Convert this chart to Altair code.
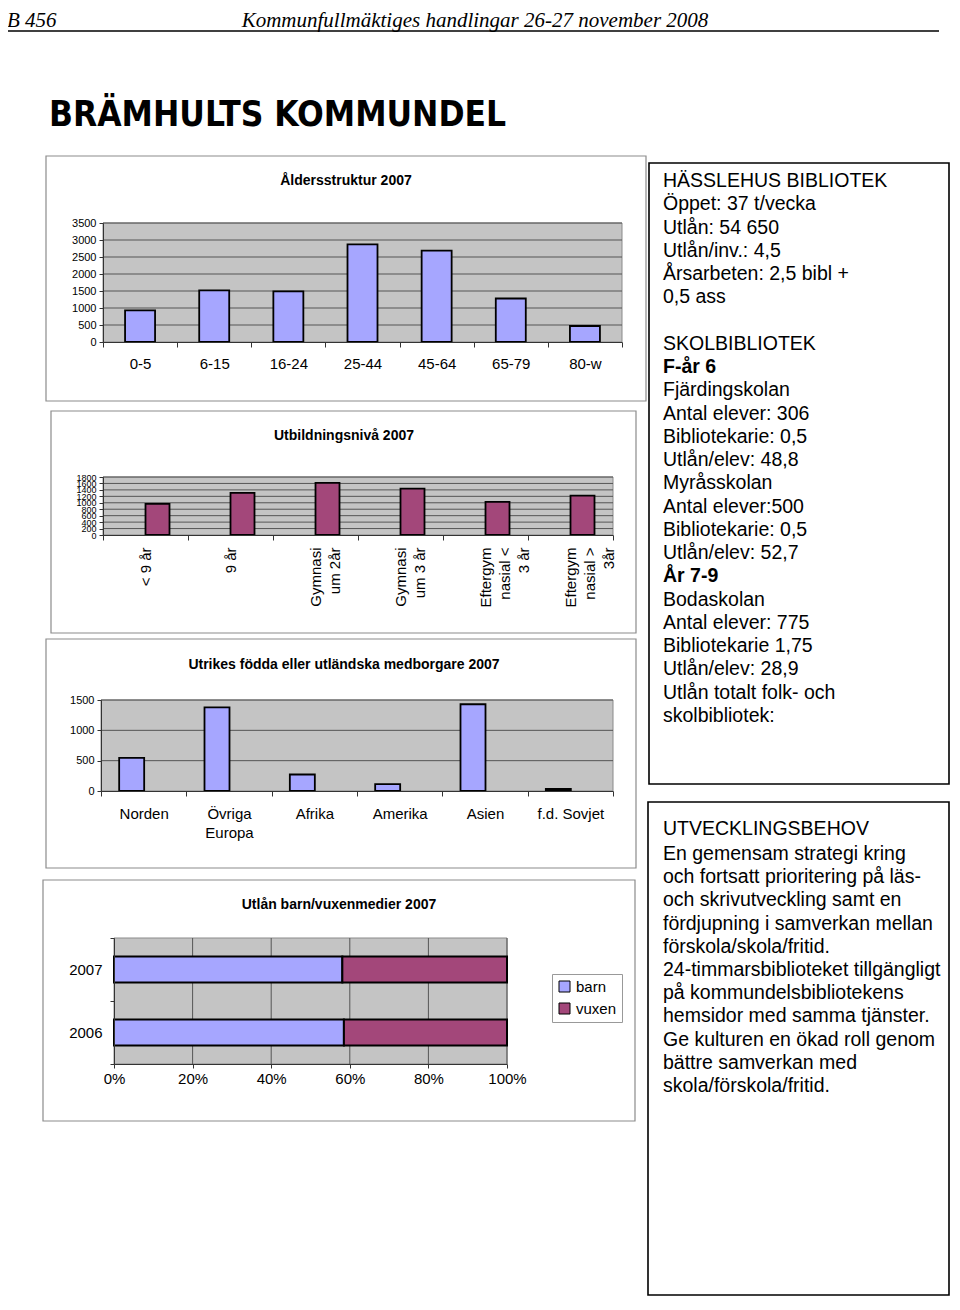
import altair as alt
import pandas as pd

# ---------------- data ----------------
age_groups = ["0-5", "6-15", "16-24", "25-44", "45-64", "65-79", "80-w"]
age_counts = [930, 1520, 1490, 2870, 2690, 1280, 470]
age_ticks = [0, 500, 1000, 1500, 2000, 2500, 3000, 3500]

edu_levels = ["< 9 år", "9 år", "Gymnasi\num 2år", "Gymnasi\num 3 år",
              "Eftergym\nnasial <\n3 år", "Eftergym\nnasial >\n3år"]
edu_counts = [965, 1310, 1620, 1440, 1030, 1220]
edu_ticks = [0, 200, 400, 600, 800, 1000, 1200, 1400, 1600, 1800]

origin_regions = ["Norden", "Övriga\nEuropa", "Afrika", "Amerika", "Asien", "f.d. Sovjet"]
origin_counts = [545, 1380, 272, 114, 1430, 33]
origin_ticks = [0, 500, 1000, 1500]

loan_years = ["2007", "2006"]
loan_types = ["barn", "vuxen"]
loan_barn = [58.1, 58.5]
loan_vuxen = [41.9, 41.5]
share_ticks = [0, 0.2, 0.4, 0.6, 0.8, 1.0]

chart_titles = ["Åldersstruktur 2007", "Utbildningsnivå 2007",
                "Utrikes födda eller utländska medborgare 2007",
                "Utlån barn/vuxenmedier 2007"]

page_label = "B 456"
page_header = "Kommunfullmäktiges handlingar 26-27 november 2008"
page_title = "BRÄMHULTS KOMMUNDEL"

library_lines = [
    "HÄSSLEHUS BIBLIOTEK", "Öppet: 37 t/vecka", "Utlån: 54 650", "Utlån/inv.: 4,5",
    "Årsarbeten: 2,5 bibl +", "0,5 ass", "", "SKOLBIBLIOTEK", "F-år 6",
    "Fjärdingskolan", "Antal elever: 306", "Bibliotekarie: 0,5", "Utlån/elev: 48,8",
    "Myråsskolan", "Antal elever:500", "Bibliotekarie: 0,5", "Utlån/elev: 52,7",
    "År 7-9", "Bodaskolan", "Antal elever: 775", "Bibliotekarie 1,75",
    "Utlån/elev: 28,9", "Utlån totalt folk- och", "skolbibliotek:",
]
library_bold = ["F-år 6", "År 7-9"]

needs_heading = "UTVECKLINGSBEHOV"
needs_lines = [
    "En gemensam strategi kring", "och fortsatt prioritering på läs-",
    "och skrivutveckling samt en", "fördjupning i samverkan mellan",
    "förskola/skola/fritid.", "24-timmarsbiblioteket tillgängligt",
    "på kommundelsbibliotekens", "hemsidor med samma tjänster.",
    "Ge kulturen en ökad roll genom", "bättre samverkan med",
    "skola/förskola/fritid.",
]

# ---------------- style ----------------
FONT = "Liberation Sans, Arial, sans-serif"
BLUE = "#a6a6ff"
PLUM = "#a3477a"
GRAY_BG = "#c4c4c4"
GRID = "#555555"
AX = "#333333"
FRAME = "#8c8c8c"


def deco():
    return alt.Chart(pd.DataFrame({"k": [0]}))


def frame(x1, x2, y1, y2, color=FRAME, width=1.2):
    return deco().mark_rect(fill="transparent", stroke=color, strokeWidth=width).encode(
        x=alt.value(x1), x2=alt.value(x2), y=alt.value(y1), y2=alt.value(y2))


def plot_bg(x1, x2, y1, y2):
    return deco().mark_rect(fill=GRAY_BG, stroke="#8a8a8a", strokeWidth=1).encode(
        x=alt.value(x1), x2=alt.value(x2), y=alt.value(y1), y2=alt.value(y2))


def text_mark(text, x, y, size, weight="normal", align="center", baseline="middle",
              font=FONT, style="normal"):
    return deco().mark_text(text=text, fontSize=size, fontWeight=weight, align=align,
                            baseline=baseline, font=font, fontStyle=style,
                            color="black").encode(x=alt.value(x), y=alt.value(y))


def column_panel(categories, values, ticks, *, ph, xr, yr, bar_width, bar_shift, color,
                 title, title_xy, box, y_label_size, x_label_pad, x_label_angle=0):
    df = pd.DataFrame({"cat": categories, "val": values})
    xs = alt.Scale(domain=categories, range=xr, paddingInner=0, paddingOuter=0)
    ys = alt.Scale(domain=[ticks[0], ticks[-1]], range=[yr[1], yr[0]], nice=False, zero=True)
    x_axis = alt.Axis(orient="bottom", offset=-(ph - yr[1]), tickBand="extent", tickSize=5,
                      labelPadding=x_label_pad, labelFontSize=15, labelAngle=x_label_angle,
                      labelExpr="split(datum.label, '\\n')", labelLineHeight=19,
                      title=None, domainColor=AX, tickColor=AX, labelColor="black",
                      zindex=1, grid=False)
    y_axis = alt.Axis(orient="left", offset=-xr[0], values=ticks, format="d", tickSize=4,
                      labelPadding=3, labelFontSize=y_label_size, labelOverlap=False,
                      title=None, domainColor=AX, tickColor=AX, labelColor="black",
                      zindex=1, grid=False)
    grid = alt.Chart(pd.DataFrame({"val": ticks[1:]})).mark_rule(
        color=GRID, strokeWidth=1).encode(
        y=alt.Y("val:Q", scale=ys, axis=y_axis), x=alt.value(xr[0]), x2=alt.value(xr[1]))
    bars = alt.Chart(df).mark_bar(width=bar_width, xOffset=bar_shift, fill=color,
                                  stroke="black", strokeWidth=1.8).encode(
        x=alt.X("cat:N", scale=xs, sort=categories, axis=x_axis),
        y=alt.Y("val:Q", scale=ys, axis=y_axis))
    return alt.layer(
        frame(*box),
        plot_bg(xr[0], xr[1], yr[0], yr[1]),
        grid,
        bars,
        text_mark(title, title_xy[0], title_xy[1], 14, weight="bold"),
    ).properties(width=640, height=ph)


p1 = column_panel(age_groups, age_counts, age_ticks, ph=255, xr=[96, 615], yr=(73, 192),
                  bar_width=30, bar_shift=0, color=BLUE, title=chart_titles[0],
                  title_xy=(339, 31), box=(39, 639, 6, 251), y_label_size=11,
                  x_label_pad=9)
p2 = column_panel(edu_levels, edu_counts, edu_ticks, ph=231, xr=[96, 606], yr=(72, 130),
                  bar_width=24, bar_shift=12, color=PLUM, title=chart_titles[1],
                  title_xy=(337, 31), box=(44, 629, 6, 228), y_label_size=9,
                  x_label_pad=7, x_label_angle=-90)
p3 = column_panel(origin_regions, origin_counts, origin_ticks, ph=234, xr=[94, 606],
                  yr=(64, 155), bar_width=25, bar_shift=-12, color=BLUE,
                  title=chart_titles[2], title_xy=(337, 29), box=(39, 629, 3, 232),
                  y_label_size=11, x_label_pad=10)

# ---- stacked 100% bar panel ----
loan_df = pd.DataFrame({
    "year": loan_years * 2,
    "type": [loan_types[0]] * 2 + [loan_types[1]] * 2,
    "share": loan_barn + loan_vuxen,
    "ord": [0, 0, 1, 1],
})
P4H = 250
xs4 = alt.Scale(domain=[0, 1], range=[107, 500], nice=False, zero=True)
ys4 = alt.Scale(domain=loan_years, range=[61, 187], paddingInner=0, paddingOuter=0)
x_axis4 = alt.Axis(orient="bottom", offset=-(P4H - 187), values=share_ticks,
                   format="%", labelFlush=False, tickSize=4, labelPadding=3,
                   labelFontSize=15, title=None, domainColor=AX, tickColor=AX,
                   labelColor="black", zindex=1, grid=False)
grid4 = alt.Chart(pd.DataFrame({"share": share_ticks[1:]})).mark_rule(
    color=GRID, strokeWidth=1).encode(
    x=alt.X("share:Q", scale=xs4, axis=x_axis4), y=alt.value(61), y2=alt.value(187))
bars4 = alt.Chart(loan_df).mark_bar(height=26, stroke="black", strokeWidth=2).encode(
    x=alt.X("share:Q", stack="normalize", scale=xs4, axis=x_axis4),
    y=alt.Y("year:N", scale=ys4, sort=loan_years,
            axis=alt.Axis(orient="left", offset=-107, tickBand="extent", tickSize=4,
                          labelPadding=8, labelFontSize=15, title=None, domainColor=AX,
                          tickColor=AX, labelColor="black", zindex=1, grid=False)),
    color=alt.Color("type:N", scale=alt.Scale(domain=loan_types, range=[BLUE, PLUM]),
                    legend=alt.Legend(orient="none", legendX=545, legendY=97, title=None,
                                      symbolType="square", symbolSize=121,
                                      symbolStrokeColor="black", symbolStrokeWidth=1,
                                      labelFontSize=15, labelOffset=4, strokeColor="#999999",
                                      fillColor="white", padding=5, rowPadding=6)),
    order=alt.Order("ord:Q"),
)
p4 = alt.layer(
    frame(36, 628, 3, 244),
    plot_bg(107, 500, 61, 187),
    grid4,
    bars4,
    text_mark(chart_titles[3], 332, 28, 14, weight="bold"),
).properties(width=640, height=P4H)

# ---- text boxes ----
lib_df = pd.DataFrame({"line": library_lines, "i": list(range(len(library_lines)))})
lib_df["bold"] = lib_df["line"].isin(library_bold)
ys_lib = alt.Scale(domain=[0, len(library_lines) - 1], range=[31, 566])
lib_normal = alt.Chart(lib_df[~lib_df["bold"]]).mark_text(
    align="left", baseline="middle", fontSize=19.5, color="black").encode(
    x=alt.value(16), y=alt.Y("i:Q", scale=ys_lib, axis=None), text="line:N")
lib_boldl = alt.Chart(lib_df[lib_df["bold"]]).mark_text(
    align="left", baseline="middle", fontSize=19.5, fontWeight="bold", color="black").encode(
    x=alt.value(16), y=alt.Y("i:Q", scale=ys_lib, axis=None), text="line:N")
t1 = alt.layer(frame(2, 302, 13, 634, color="black", width=1.6), lib_normal, lib_boldl
               ).properties(width=303, height=645)

needs_df = pd.DataFrame({"line": needs_lines, "i": list(range(len(needs_lines)))})
ys_needs = alt.Scale(domain=[0, len(needs_lines) - 1], range=[59, 291])
needs_text = alt.Chart(needs_df).mark_text(
    align="left", baseline="middle", fontSize=19.5, color="black").encode(
    x=alt.value(16), y=alt.Y("i:Q", scale=ys_needs, axis=None), text="line:N")
t2 = alt.layer(frame(1, 302, 7, 500, color="black", width=1.6),
               text_mark(needs_heading, 16, 34, 19.5, align="left"),
               needs_text).properties(width=303, height=503)

# ---- page header ----
SERIF = "Liberation Serif, Times New Roman, serif"
header = alt.layer(
    text_mark(page_label, 0, 19, 21, align="left", baseline="alphabetic",
              font=SERIF, style="italic"),
    text_mark(page_header, 468, 19, 21, align="center", baseline="alphabetic",
              font=SERIF, style="italic"),
    deco().mark_rule(color="black", strokeWidth=1.5).encode(
        x=alt.value(0), x2=alt.value(932), y=alt.value(23)),
    text_mark(page_title, 42, 118, 35, weight="bold", align="left", baseline="alphabetic",
              font="DejaVu Sans Condensed, Liberation Sans, sans-serif"),
).properties(width=943, height=142)

left = alt.vconcat(p1, p2, p3, p4, spacing=0).resolve_scale(color="independent")
right = alt.vconcat(t1, t2, spacing=0).resolve_scale(color="independent")
body = alt.hconcat(left, right, spacing=0).resolve_scale(color="independent")
chart = alt.vconcat(header, body, spacing=0).resolve_scale(
    color="independent").properties(
    padding={"left": -8, "top": 0, "right": 0, "bottom": 0}
).configure(font=FONT).configure_view(strokeWidth=0)

chart.save("out.html", embed_options={"renderer": "svg", "actions": False})
